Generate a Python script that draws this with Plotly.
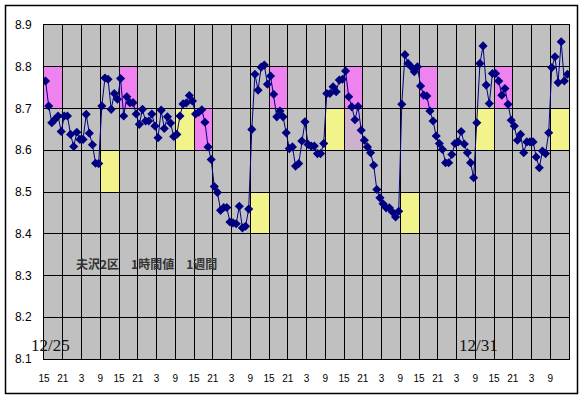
import plotly.graph_objects as go

# hourly values starting 12/25 15:00 (168 hours = 1 week)
values = [
    8.766, 8.706, 8.666, 8.674, 8.682, 8.645, 8.682, 8.682, 8.638, 8.609,
    8.643, 8.626, 8.626, 8.686, 8.641, 8.613, 8.569, 8.568, 8.706, 8.773,
    8.770, 8.698, 8.736, 8.722, 8.772, 8.682, 8.728, 8.714, 8.714, 8.687,
    8.662, 8.698, 8.670, 8.670, 8.687, 8.658, 8.630, 8.696, 8.652, 8.680,
    8.665, 8.633, 8.638, 8.682, 8.711, 8.713, 8.731, 8.718, 8.687, 8.691,
    8.697, 8.667, 8.608, 8.578, 8.513, 8.499, 8.456, 8.463, 8.463, 8.428,
    8.426, 8.424, 8.466, 8.414, 8.418, 8.459, 8.650, 8.782, 8.744, 8.799,
    8.804, 8.758, 8.778, 8.734, 8.680, 8.694, 8.680, 8.642, 8.604, 8.608,
    8.562, 8.568, 8.622, 8.668, 8.614, 8.610, 8.610, 8.592, 8.592, 8.616,
    8.736, 8.736, 8.752, 8.740, 8.768, 8.770, 8.790, 8.728, 8.704, 8.673,
    8.705, 8.648, 8.624, 8.608, 8.594, 8.564, 8.506, 8.486, 8.472, 8.462,
    8.462, 8.452, 8.440, 8.454, 8.710, 8.829, 8.808, 8.800, 8.788, 8.800,
    8.754, 8.732, 8.730, 8.694, 8.670, 8.634, 8.616, 8.602, 8.570, 8.570,
    8.590, 8.616, 8.620, 8.645, 8.615, 8.594, 8.570, 8.534, 8.666, 8.808,
    8.850, 8.756, 8.712, 8.784, 8.784, 8.766, 8.732, 8.748, 8.710, 8.672,
    8.658, 8.624, 8.638, 8.594, 8.620, 8.620, 8.620, 8.584, 8.558, 8.598,
    8.592, 8.642, 8.798, 8.824, 8.762, 8.860, 8.766, 8.782,
]
hours = [i + 0.5 for i in range(len(values))]

tick_hours = list(range(0, 168, 6))
tick_labels = ["15", "21", "3", "9"] * 7

y_ticks = [8.1, 8.2, 8.3, 8.4, 8.5, 8.6, 8.7, 8.8, 8.9]
y_labels = ["8.1", "8.2", "8.3", "8.4", "8.5", "8.6", "8.7", "8.8", "8.9"]

# highlighted 6-hour bands: start hour, low, high, kind
band_starts = [0, 18, 24, 42, 48, 66, 72, 90, 96, 96, 114, 120, 138, 144, 162]
band_lows = [8.7, 8.5, 8.7, 8.6, 8.6, 8.4, 8.7, 8.6, 8.7, 8.6, 8.4, 8.7, 8.6, 8.7, 8.6]
band_highs = [8.8, 8.6, 8.8, 8.7, 8.7, 8.5, 8.8, 8.7, 8.8, 8.7, 8.5, 8.8, 8.7, 8.8, 8.7]
band_kinds = ["p", "y", "p", "y", "p", "y", "p", "y", "p", "m", "y", "p", "y", "p", "y"]
kind_colors = {"p": "#EE82EE", "y": "#F3F38C", "m": "#CDB2CD"}

title_text = "<b>夫沢2区　1時間値　1週間</b>"
date_labels = ["12/25", "12/31"]
date_label_hours = [2.0, 139.0]

fig = go.Figure()
fig.add_trace(go.Scatter(
    x=hours, y=values, mode="lines+markers",
    line=dict(color="#000080", width=1),
    marker=dict(symbol="diamond", size=7, color="#000080"),
    hoverinfo="skip",
))

for s, lo, hi, k in zip(band_starts, band_lows, band_highs, band_kinds):
    fig.add_shape(type="rect", xref="x", yref="y", x0=s, x1=s + 6, y0=lo, y1=hi,
                  fillcolor=kind_colors[k], line=dict(width=0), layer="below")

# outer chart border (paper coords; plot area is 525 x 334 px)
bx0, bx1 = (5.5 - 44) / 525, (577.5 - 44) / 525
by0, by1 = (359 - 393.5) / 334, (359 - 5.5) / 334
fig.add_shape(type="rect", xref="paper", yref="paper", x0=bx0, y0=by0, x1=bx1, y1=by1,
              line=dict(color="black", width=1.5), fillcolor="rgba(0,0,0,0)")

fig.add_annotation(x=0.057, y=0.285, xref="paper", yref="paper", xanchor="left",
                   yanchor="middle", text=title_text, showarrow=False,
                   font=dict(family="Noto Sans CJK JP", size=12, color="#333333"))

for lab, h in zip(date_labels, date_label_hours):
    fig.add_annotation(x=h, y=8.1, xref="x", yref="y", xanchor="center",
                       yanchor="bottom", yshift=2, text=lab, showarrow=False,
                       font=dict(family="Liberation Serif", size=17, color="#111111"))

fig.update_xaxes(range=[0, 168], tickmode="array", tickvals=tick_hours,
                 ticktext=tick_labels, showgrid=True, gridcolor="black", gridwidth=1,
                 showline=True, mirror=True, linecolor="black", linewidth=1,
                 ticks="", ticklabelstandoff=10, zeroline=False,
                 tickfont=dict(family="Liberation Sans", size=10, color="black"))
fig.update_yaxes(range=[8.1, 8.9], tickmode="array", tickvals=y_ticks,
                 ticktext=y_labels, showgrid=True, gridcolor="black", gridwidth=1,
                 showline=True, mirror=True, linecolor="black", linewidth=1,
                 ticks="", ticklabelstandoff=9, zeroline=False,
                 tickfont=dict(family="Liberation Sans", size=12, color="black"))

fig.update_layout(width=585, height=399, margin=dict(l=44, r=16, t=25, b=40),
                  paper_bgcolor="white", plot_bgcolor="#C0C0C0", showlegend=False)

fig.write_html("out.html", config={"displayModeBar": False},
               post_script="document.body.style.margin='0';")
